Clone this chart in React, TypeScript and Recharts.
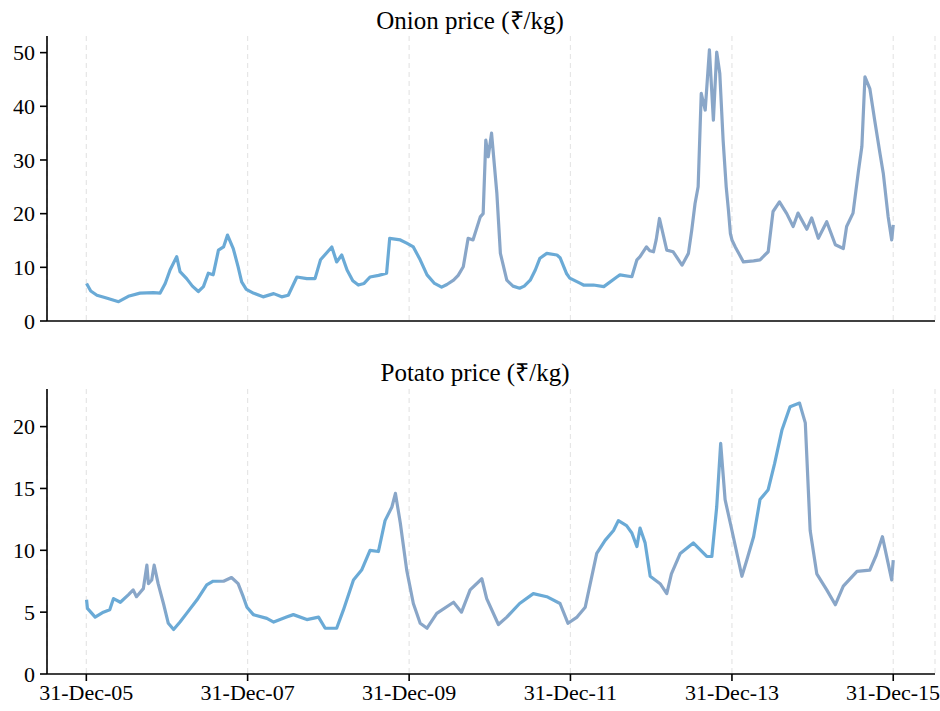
import React from 'react';
import { LineChart, Line, XAxis, YAxis, CartesianGrid } from 'recharts';

// ---------- data ----------
const onionDates = [
  '2006-01-01','2006-01-20','2006-02-17','2006-04-01','2006-05-26','2006-07-09','2006-08-31','2006-10-31','2006-11-30','2006-12-23',
  '2007-01-14','2007-02-13','2007-02-28','2007-03-30','2007-04-25','2007-05-22','2007-06-14','2007-07-06','2007-07-28','2007-08-21','2007-09-13','2007-10-01','2007-10-27','2007-11-18','2007-12-04','2007-12-25',
  '2008-01-26','2008-03-10','2008-04-27','2008-06-02','2008-07-02','2008-08-10','2008-09-24','2008-10-31','2008-11-25',
  '2009-01-15','2009-02-06','2009-03-01','2009-03-25','2009-04-20','2009-05-15','2009-06-10','2009-07-07','2009-08-15','2009-09-20','2009-10-04','2009-11-21','2009-12-20',
  '2010-01-19','2010-02-19','2010-03-22','2010-04-25','2010-05-27','2010-06-20','2010-07-20','2010-08-10','2010-09-02','2010-09-24','2010-10-16','2010-11-18','2010-12-01','2010-12-13','2010-12-24',
  '2011-01-08','2011-02-01','2011-02-17','2011-03-18','2011-04-15','2011-05-15','2011-06-05','2011-07-02','2011-07-25','2011-08-15','2011-09-15','2011-10-31','2011-11-14','2011-12-14','2011-12-28',
  '2012-02-14','2012-02-28','2012-04-13','2012-05-30','2012-07-28','2012-08-11','2012-10-04','2012-10-27','2012-11-10','2012-12-09','2012-12-24',
  '2013-01-10','2013-01-22','2013-02-06','2013-03-11','2013-04-09','2013-05-19','2013-06-17','2013-07-02','2013-07-17','2013-07-31','2013-08-14','2013-09-01','2013-09-20','2013-10-08','2013-10-23','2013-11-06','2013-11-21','2013-12-05','2013-12-15','2013-12-24','2013-12-31',
  '2014-01-15','2014-02-21','2014-04-08','2014-05-07','2014-06-13','2014-07-05','2014-08-03','2014-09-05','2014-10-04','2014-10-26','2014-12-05','2014-12-27',
  '2015-01-26','2015-03-05','2015-04-13','2015-05-19','2015-06-03','2015-07-02','2015-07-27','2015-08-11','2015-08-25','2015-09-16','2015-10-08','2015-11-01','2015-11-16','2015-12-08','2015-12-24','2015-12-31',
];
const onionPrices = [
  7.0,5.6,4.8,4.3,3.6,4.6,5.2,5.3,5.2,7.0,
  9.5,12.0,9.2,7.9,6.5,5.5,6.4,8.9,8.6,13.2,13.8,16.0,13.5,10.1,7.3,5.9,
  5.2,4.5,5.1,4.5,4.8,8.2,7.9,7.9,11.4,
  13.8,11.0,12.3,9.5,7.5,6.7,7.0,8.2,8.5,8.9,15.4,15.1,14.5,
  13.8,11.4,8.6,7.0,6.3,6.8,7.6,8.5,10.1,15.4,15.1,19.4,20.0,33.7,30.6,
  35.0,23.8,12.6,7.6,6.5,6.1,6.5,7.6,9.5,11.7,12.6,12.3,11.8,8.8,8.0,
  7.0,6.7,6.7,6.4,8.2,8.6,8.25,11.4,12.0,13.8,13.1,
  12.9,15.1,19.1,13.2,12.9,10.4,12.6,16.9,21.9,25.0,42.4,39.3,50.5,37.4,50.1,46.1,33.7,25.0,20.7,16.3,15.1,
  13.8,11.0,11.2,11.4,12.9,20.4,22.2,20.0,17.6,20.1,17.1,19.2,
  15.4,18.5,14.2,13.5,17.6,20.1,28.1,32.5,45.5,43.3,37.4,31.2,27.5,19.4,15.1,17.9,
];

const potatoDates = [
  '2006-01-01','2006-01-05','2006-02-09','2006-03-18','2006-04-16','2006-05-03','2006-06-03','2006-07-09','2006-07-31','2006-08-15','2006-09-15','2006-10-01','2006-10-08','2006-10-23','2006-11-03','2006-11-21','2006-12-15',
  '2007-01-06','2007-01-30','2007-02-28','2007-03-30','2007-05-16','2007-06-29','2007-07-28','2007-09-13','2007-10-19','2007-11-18','2007-12-11','2007-12-28',
  '2008-01-26','2008-03-27','2008-04-27','2008-06-24','2008-07-25','2008-09-24','2008-11-16','2008-12-16',
  '2009-02-06','2009-03-09','2009-04-23','2009-05-30','2009-07-07','2009-08-14','2009-09-13','2009-10-14','2009-10-30','2009-11-21','2009-12-20',
  '2010-01-19','2010-02-19','2010-03-22','2010-05-05','2010-07-20','2010-08-25','2010-10-03','2010-11-25','2010-12-17',
  '2011-02-08','2011-03-18','2011-05-15','2011-07-16','2011-09-15','2011-11-14','2011-12-20',
  '2012-01-30','2012-03-07','2012-04-28','2012-06-05','2012-07-13','2012-08-04','2012-09-10','2012-10-04','2012-10-27','2012-11-10','2012-12-03','2012-12-26',
  '2013-02-09','2013-03-11','2013-04-01','2013-05-11','2013-07-09','2013-09-08','2013-10-01','2013-10-23','2013-11-10','2013-11-30','2013-12-31',
  '2014-02-14','2014-03-08','2014-04-08','2014-05-07','2014-06-13','2014-07-12','2014-08-14','2014-09-20','2014-11-02','2014-11-28','2014-12-20',
  '2015-01-19','2015-03-05','2015-04-13','2015-05-19','2015-07-20','2015-09-16','2015-10-15','2015-11-12','2015-12-08','2015-12-24','2015-12-31',
];
const potatoPrices = [
  6.0,5.3,4.6,5.0,5.2,6.1,5.8,6.4,6.8,6.25,6.9,8.8,7.3,7.6,8.8,7.3,5.7,
  4.1,3.6,4.2,4.9,6.0,7.2,7.5,7.5,7.8,7.3,6.25,5.4,
  4.8,4.5,4.2,4.6,4.8,4.4,4.6,3.7,
  3.7,5.2,7.6,8.4,10.0,9.9,12.4,13.5,14.6,12.2,8.4,
  5.7,4.1,3.7,4.9,5.8,5.0,6.8,7.7,6.1,
  4.0,4.6,5.7,6.5,6.25,5.7,4.1,
  4.6,5.4,9.75,10.8,11.6,12.4,12.0,11.4,10.3,11.8,10.6,7.9,
  7.3,6.5,8.1,9.75,10.6,9.5,9.5,13.5,18.65,14.1,11.6,
  7.9,9.2,11.1,14.1,14.9,17.0,19.7,21.6,21.9,20.3,11.6,
  8.1,6.8,5.6,7.1,8.3,8.4,9.6,11.1,8.95,7.6,9.2,
];

const xTickDates = ['2005-12-31','2007-12-31','2009-12-31','2011-12-31','2013-12-31','2015-12-31'];
const xTickLabels = ['31-Dec-05','31-Dec-07','31-Dec-09','31-Dec-11','31-Dec-13','31-Dec-15'];
const onionYTicks = [0, 10, 20, 30, 40, 50];
const potatoYTicks = [0, 5, 10, 15, 20];

// ---------- helpers ----------
const DAY = 86400000;
const ts = (d: string) => Date.parse(d + 'T00:00:00Z');
const onionData = onionDates.map((d, i) => ({ t: ts(d), v: onionPrices[i] }));
const potatoData = potatoDates.map((d, i) => ({ t: ts(d), v: potatoPrices[i] }));
const xTicks = xTickDates.map(ts);
const xDomain = [ts('2005-12-31') - 178 * DAY, ts('2015-12-31') + 189 * DAY];
const fmtX = (v: number) => {
  const i = xTicks.indexOf(v);
  return i >= 0 ? xTickLabels[i] : '';
};

const FONT = '"Liberation Serif", "Times New Roman", Times, serif';
const BLUE = '#6aaad6';
const GREY = '#89a6c8';

const onionStops: [number, string][] = [
  [0, BLUE], [0.44, BLUE], [0.455, GREY], [0.52, GREY], [0.535, BLUE], [0.665, BLUE], [0.685, GREY], [1, GREY],
];
const potatoStops: [number, string][] = [
  [0, BLUE], [0.045, BLUE], [0.055, GREY], [0.095, GREY], [0.105, BLUE], [0.16, BLUE], [0.17, GREY], [0.19, GREY],
  [0.2, BLUE], [0.37, BLUE], [0.38, GREY], [0.52, GREY], [0.53, BLUE], [0.58, BLUE], [0.59, GREY], [0.63, GREY],
  [0.64, BLUE], [0.7, BLUE], [0.71, GREY], [0.73, GREY], [0.745, BLUE], [0.78, BLUE], [0.79, GREY], [0.82, GREY],
  [0.83, BLUE], [0.88, BLUE], [0.89, GREY], [1, GREY],
];

const tickStyle = { fontFamily: FONT, fontSize: 22, fill: '#000' };
const axisLine = { stroke: '#000', strokeWidth: 1.6 };
const EmptyTick = () => <g />;

function Panel(props: {
  data: { t: number; v: number }[];
  yDomain: [number, number];
  yTicks: number[];
  showX: boolean;
  height: number;
  top: number;
  xAxisHeight: number;
  gradId: string;
  stops: [number, string][];
}) {
  const { data, yDomain, yTicks, showX, height, top, xAxisHeight, gradId, stops } = props;
  return (
    <LineChart width={940} height={height} data={data} margin={{ top, right: 5, bottom: 0, left: 0 }}>
      <defs>
        <linearGradient id={gradId} x1="0" y1="0" x2="1" y2="0">
          {stops.map(([o, c], i) => (
            <stop key={i} offset={o} stopColor={c} />
          ))}
        </linearGradient>
      </defs>
      <CartesianGrid horizontal={false} stroke="#e6e6e6" strokeDasharray="5 4" strokeWidth={1.2} />
      <XAxis
        dataKey="t"
        type="number"
        scale="linear"
        domain={xDomain}
        ticks={xTicks}
        tickFormatter={fmtX}
        height={xAxisHeight}
        axisLine={axisLine}
        tickLine={showX ? axisLine : false}
        tick={showX ? tickStyle : EmptyTick}
        tickSize={7}
        tickMargin={3}
        allowDataOverflow
      />
      <YAxis
        type="number"
        domain={yDomain}
        ticks={yTicks}
        width={47}
        axisLine={axisLine}
        tickLine={axisLine}
        tick={tickStyle}
        tickSize={7}
        tickMargin={5}
        allowDataOverflow
      />
      <Line
        type="linear"
        dataKey="v"
        stroke={`url(#${gradId})`}
        strokeWidth={3.2}
        strokeLinejoin="round"
        dot={false}
        activeDot={false}
        isAnimationActive={false}
      />
    </LineChart>
  );
}

export default function App() {
  return (
    <div style={{ position: 'absolute', left: 0, top: 0, width: 940, height: 711, background: '#fff', fontFamily: FONT }}>
      <div style={{ position: 'absolute', left: 0, top: 0 }}>
        <Panel data={onionData} yDomain={[0, 53.1]} yTicks={onionYTicks} showX={false} height={340} top={36}
          xAxisHeight={19} gradId="onionGrad" stops={onionStops} />
      </div>
      <div style={{ position: 'absolute', left: 0, top: 350 }}>
        <Panel data={potatoData} yDomain={[0, 23.04]} yTicks={potatoYTicks} showX={true} height={361} top={39}
          xAxisHeight={37} gradId="potatoGrad" stops={potatoStops} />
      </div>
      <svg width={940} height={711} style={{ position: 'absolute', left: 0, top: 0, pointerEvents: 'none' }}>
        <text x={470} y={29} textAnchor="middle" fontFamily={FONT} fontSize={25} fill="#000">Onion price (₹/kg)</text>
        <text x={475} y={381} textAnchor="middle" fontFamily={FONT} fontSize={25} fill="#000">Potato price (₹/kg)</text>
      </svg>
    </div>
  );
}
